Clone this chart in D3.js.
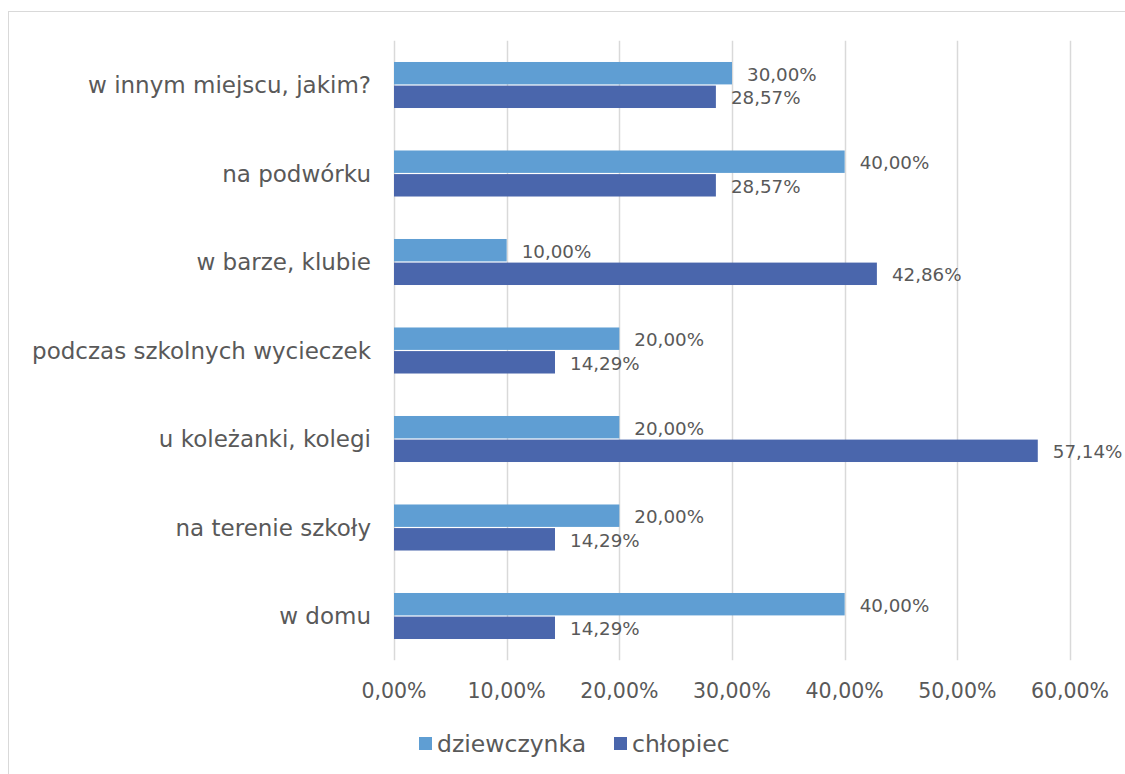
<!DOCTYPE html>
<html><head><meta charset="utf-8">
<script src="https://cdn.jsdelivr.net/npm/d3@7"></script>
<style>html,body{margin:0;padding:0;background:#fff;}svg{display:block;}</style>
</head><body>
<script>
const categories = ["w innym miejscu, jakim?","na podwórku","w barze, klubie","podczas szkolnych wycieczek","u koleżanki, kolegi","na terenie szkoły","w domu"];
const seriesNames = ["dziewczynka","chłopiec"];
const dziewczynka = [30.00, 40.00, 10.00, 20.00, 20.00, 20.00, 40.00];
const chlopiec = [28.57, 28.57, 42.86, 14.29, 57.14, 14.29, 14.29];
const xTicks = [0,10,20,30,40,50,60];
const colors = ["#5f9ed3","#4a66ac"];

const W = 1125, H = 774;
const font = "'DejaVu Sans', sans-serif";
const textColor = "#595959";
const svg = d3.select("body").append("svg").attr("width", W).attr("height", H);

svg.append("rect").attr("x", 8.5).attr("y", 11.5).attr("width", 1300).attr("height", 900)
  .attr("fill", "#fff").attr("stroke", "#d9d9d9").attr("stroke-width", 1);

const x = d3.scaleLinear().domain([0, 60]).range([394, 1070]);
const y = d3.scaleBand().domain(categories).range([40.75, 660.25]).paddingInner(0.48).paddingOuter(0.24);
const ySub = d3.scaleBand().domain(seriesNames).range([0, y.bandwidth()]).paddingInner(0.05);

const fmt = v => v.toFixed(2).replace(".", ",") + "%";

// gridlines
svg.append("g").selectAll("line").data(xTicks).join("line")
  .attr("x1", d => Math.round(x(d)) + 0.5).attr("x2", d => Math.round(x(d)) + 0.5)
  .attr("y1", 40.75).attr("y2", 660.25)
  .attr("stroke", "#d9d9d9").attr("stroke-width", 1.5);

// axis tick labels
svg.append("g").selectAll("text").data(xTicks).join("text")
  .attr("x", d => x(d)).attr("y", 691).attr("dy", "0.35em")
  .attr("text-anchor", "middle").attr("font-family", font).attr("font-size", 20.5)
  .attr("fill", textColor).text(d => fmt(d));

// category labels
svg.append("g").selectAll("text").data(categories).join("text")
  .attr("x", 371).attr("y", d => y(d) + y.bandwidth()/2).attr("dy", "0.35em")
  .attr("text-anchor", "end").attr("font-family", font).attr("font-size", 23)
  .attr("fill", textColor).text(d => d);

const rows = [];
categories.forEach((c, i) => {
  rows.push({cat: c, s: seriesNames[0], v: dziewczynka[i], col: colors[0]});
  rows.push({cat: c, s: seriesNames[1], v: chlopiec[i], col: colors[1]});
});

svg.append("g").selectAll("rect").data(rows).join("rect")
  .attr("x", x(0)).attr("y", d => y(d.cat) + ySub(d.s))
  .attr("width", d => x(d.v) - x(0)).attr("height", ySub.bandwidth())
  .attr("fill", d => d.col);

svg.append("g").selectAll("text").data(rows).join("text")
  .attr("x", d => x(d.v) + 15).attr("y", d => y(d.cat) + ySub(d.s) + ySub.bandwidth()/2 + 1)
  .attr("dy", "0.35em").attr("font-family", font).attr("font-size", 18.3)
  .attr("fill", textColor).text(d => fmt(d.v));

// legend
const leg = svg.append("g");
const legItems = [{n: seriesNames[0], c: colors[0], x: 419}, {n: seriesNames[1], c: colors[1], x: 614}];
leg.selectAll("rect").data(legItems).join("rect")
  .attr("x", d => d.x).attr("y", 737).attr("width", 13).attr("height", 13).attr("fill", d => d.c);
leg.selectAll("text").data(legItems).join("text")
  .attr("x", d => d.x + 18).attr("y", 743.5).attr("dy", "0.35em")
  .attr("font-family", font).attr("font-size", 23.5).attr("fill", textColor).text(d => d.n);
</script>
</body></html>
